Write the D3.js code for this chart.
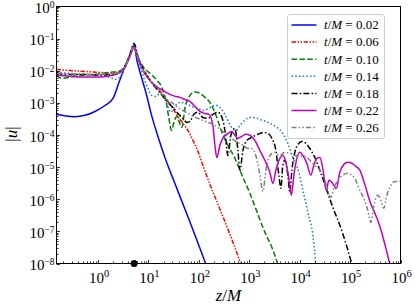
<!DOCTYPE html>
<html><head><meta charset="utf-8">
<script src="https://cdn.jsdelivr.net/npm/d3@7"></script>
<style>body{margin:0;background:#fff}svg{display:block}</style>
</head><body><svg id="c" width="415" height="308"></svg>
<script>
// ---- data (z/M, |u|) ----
const times = [0.02, 0.06, 0.10, 0.14, 0.18, 0.22, 0.26];
const particleZ = 5.2;
const xTickExps = [0, 1, 2, 3, 4, 5, 6];
const yTickExps = [0, -1, -2, -3, -4, -5, -6, -7, -8];

const u002 = [[0.15,4.4e-4],[0.23,3.9e-4],[0.35,3.7e-4],[0.55,4.1e-4],[0.87,5.4e-4],[1.37,8.3e-4],[1.98,1.38e-3],[2.6,4.3e-3],[3.42,0.0136],[4.3,0.032],[5.2,0.062],[5.9,0.021],[7.1,0.0072],[8.9,0.0021],[11.7,3.8e-4],[15.4,9.1e-5],[21.2,2.0e-5],[33.5,3.1e-6],[53,4.9e-7],[84,7.6e-8],[138,9.5e-9]];
const u006 = [[0.15,0.011],[0.278,0.0102],[0.551,0.0095],[1.09,0.0089],[1.73,0.0085],[2.49,0.0089],[3.27,0.0118],[4.11,0.0241],[5.2,0.057],[6.19,0.026],[7.78,0.0118],[9.77,0.0067],[12.3,0.0040],[15.4,0.0028],[19.4,0.00183],[24.4,0.00111],[30.6,6.7e-4],[38.4,3.8e-4],[48.3,2.3e-4],[60.7,1.39e-4],[76.3,6.8e-5],[95.8,3.1e-5],[120,1.14e-5],[166,2.9e-6],[262,4.9e-7],[413,8.1e-8],[683,9.5e-9]];
const u010 = [[0.15,0.0072],[0.193,0.0058],[0.254,0.0062],[0.439,0.0072],[0.869,0.0077],[1.73,0.0089],[2.49,0.0095],[3.27,0.0127],[4.11,0.026],[5.2,0.053],[6.19,0.026],[7.78,0.0136],[10.7,0.0083],[14.8,0.005],[18.5,0.0030],[22.2,0.00119],[25.5,3.3e-4],[28.6,1.39e-4],[32,2.47e-4],[36.7,3.8e-4],[41.1,2.47e-4],[46.1,1.73e-4],[52.9,6.7e-4],[66.5,0.00171],[83.6,0.0022],[105,0.00197],[132,0.00148],[166,0.00103],[218,4.1e-4],[287,1.2e-4],[377,4.8e-5],[519,1.88e-5],[748,4.8e-6],[1030,1.53e-6],[1483,3.4e-7],[2040,9.4e-8],[2804,3.2e-8],[3697,9.5e-9]];
const u014 = [[0.15,0.0089],[0.278,0.0083],[0.551,0.0077],[1.09,0.0072],[1.73,0.0062],[2.27,0.0054],[2.85,0.0072],[3.58,0.0146],[4.3,0.028],[5.2,0.053],[6.19,0.0209],[7.78,0.0072],[9.77,0.0028],[11.7,0.00171],[14.1,0.00159],[16.9,0.00197],[20.2,0.00148],[24.4,7.8e-4],[28,5.1e-4],[33.5,7.8e-4],[42.1,0.00103],[55.4,9.6e-4],[72.8,7.8e-4],[95.8,6.7e-4],[126,5.8e-4],[166,7.2e-4],[218,8.4e-4],[274,6.7e-4],[344,3.8e-4],[432,1.86e-4],[543,1.39e-4],[683,2.15e-4],[857,3.06e-4],[1078,3.54e-4],[1413,3.3e-4],[1862,2.85e-4],[2560,2.3e-4],[3527,1.73e-4],[4637,1.12e-4],[5833,5.5e-5],[7321,2.0e-5],[9627,6.9e-6],[11566,1.9e-6],[14514,3.9e-7],[18237,7.6e-8],[20940,8.8e-9]];
const u018 = [[0.15,0.0083],[0.278,0.0077],[0.551,0.0077],[1.09,0.0074],[1.9,0.0077],[2.72,0.0089],[3.42,0.0136],[4.11,0.026],[5.2,0.0707],[6.19,0.0279],[7.78,0.0118],[9.77,0.0062],[12.3,0.00376],[15.4,0.00244],[19.4,0.00159],[24.4,0.00103],[30.6,7.2e-4],[38.4,4.7e-4],[48.3,3.3e-4],[58,2.47e-4],[66.5,2.65e-4],[79.8,4.4e-4],[95.8,5.1e-4],[120,3.5e-4],[151,3.3e-4],[190,4.4e-4],[239,5.1e-4],[287,3.5e-4],[329,1.39e-4],[377,2.3e-5],[432,9.8e-5],[519,1.61e-4],[595,3.3e-5],[652,8.0e-6],[748,3.3e-5],[897,6.8e-5],[1128,8.5e-5],[1480,1.05e-4],[1948,1.2e-4],[2337,1.12e-4],[2804,7.9e-5],[3371,3.3e-5],[3868,5.6e-6],[4240,2.2e-6],[4637,1.14e-5],[5080,1.63e-5],[5833,5.6e-6],[6390,1.65e-6],[7000,8.0e-6],[8020,2.9e-5],[9627,5.5e-5],[11042,6.3e-5],[13265,5.5e-5],[15900,3.8e-5],[20000,2.0e-5],[25100,8.0e-6],[34618,1.9e-6],[45459,5.6e-7],[62600,1.55e-7],[82400,4.3e-8],[108344,9.5e-9]];
const u022 = [[0.15,0.0072],[0.278,0.0067],[0.551,0.0064],[1.09,0.0064],[1.9,0.0072],[2.72,0.0089],[3.42,0.0127],[4.11,0.0241],[5.2,0.053],[6.19,0.0241],[7.78,0.0102],[9.77,0.0058],[12.3,0.0040],[15.4,0.0030],[19.4,0.00244],[24.4,0.00197],[29.3,0.00171],[35.1,0.00159],[42.1,0.00148],[52.9,0.00128],[66.5,0.00111],[83.6,7.8e-4],[105,5.4e-4],[132,4.7e-4],[159,4.4e-4],[190,2.0e-4],[208,4.8e-5],[228,2.0e-5],[262,4.8e-5],[314,9.1e-5],[377,1.12e-4],[452,1.29e-4],[519,9.8e-5],[595,7.9e-5],[714,9.1e-5],[857,1.05e-4],[1030,9.8e-5],[1290,6.8e-5],[1625,3.3e-5],[2040,1.63e-5],[2560,6.9e-6],[2936,3.1e-6],[3371,8.0e-6],[4050,1.88e-5],[4637,2.3e-5],[5319,1.41e-5],[6103,4.5e-6],[6844,1.33e-6],[7660,5.6e-6],[8786,1.88e-5],[10080,2.9e-5],[11566,2.3e-5],[13880,1.32e-5],[16650,5.6e-6],[19100,1.14e-5],[21900,1.88e-5],[25100,2.0e-5],[28800,9.2e-6],[33850,1.9e-6],[37900,3.9e-6],[43500,3.4e-6],[53300,2.2e-6],[62600,6.9e-6],[75200,1.22e-5],[90280,1.41e-5],[108300,1.32e-5],[129800,1.06e-5],[156000,8.0e-6],[196000,2.9e-6],[246000,8.7e-7],[310000,3.7e-7],[389000,1.44e-7],[489000,4.0e-8],[614000,9.5e-9]];
const u026 = [[0.15,0.0083],[0.278,0.008],[0.551,0.0077],[1.09,0.0077],[1.9,0.008],[2.72,0.0092],[3.42,0.0136],[4.11,0.026],[5.2,0.057],[6.19,0.026],[7.78,0.011],[9.77,0.0062],[12.3,0.00376],[15.4,0.00262],[19.4,0.00171],[24.4,0.00119],[30.6,9.6e-4],[38.4,7.2e-4],[48.3,5.8e-4],[60.7,4.7e-4],[76.3,3.8e-4],[95.8,3.3e-4],[120,2.85e-4],[151,2.47e-4],[190,2.15e-4],[239,1.73e-4],[300,1.29e-4],[377,9.8e-5],[474,7.3e-5],[595,5.9e-5],[748,4.8e-5],[940,3.8e-5],[1128,3.8e-5],[1350,2.3e-5],[1625,5.6e-6],[1862,1.77e-6],[2136,8.0e-6],[2560,2.3e-5],[3220,2.9e-5],[4050,2.3e-5],[5080,2.9e-5],[6390,2.7e-5],[8020,2.3e-5],[10080,2.2e-5],[12670,2.2e-5],[15900,1.63e-5],[20000,1.14e-5],[25100,8.0e-6],[31600,3.9e-6],[36200,1.9e-6],[41560,1.15e-6],[47560,2.2e-6],[57140,3.9e-6],[71840,5.6e-6],[90280,6.4e-6],[108300,5.6e-6],[129800,3.9e-6],[156000,1.9e-6],[187200,1.07e-6],[224600,4.5e-7],[257600,1.9e-7],[296000,6.5e-7],[355000,1.33e-6],[407000,9.3e-7],[467000,5.2e-7],[535600,1.33e-6],[643000,2.7e-6],[771000,3.6e-6],[1000000,3.6e-6]];

const seriesData = [u002, u006, u010, u014, u018, u022, u026];
const styles = [
  {color:"#0000ff", dash:null},
  {color:"#ff0000", dash:"4.5,1.5,1.5,1.5,1.5,1.5"},
  {color:"#008000", dash:"5.5,2.4"},
  {color:"#1f77b4", dash:"1.5,2.2"},
  {color:"#000000", dash:"6,2.2,1.5,2.2"},
  {color:"#bf00bf", dash:null},
  {color:"#7f7f7f", dash:"5,2.2,1.5,2.2,1.5,2.2"}
];

// ---- layout ----
const X0 = 56.5, X1 = 400.5, Y0 = 6.5, Y1 = 263.5;
const FONT = "'Liberation Serif','Times New Roman',serif";
const svg = d3.select("#c");
const x = d3.scaleLog().domain([0.15, 1e6]).range([X0, X1]);
const y = d3.scaleLog().domain([1e-8, 1]).range([Y1, Y0]);

svg.append("defs").append("clipPath").attr("id","clip")
  .append("rect").attr("x",X0).attr("y",Y0).attr("width",X1-X0).attr("height",Y1-Y0);

const line = d3.line().x(d => x(d[0])).y(d => y(d[1])).curve(d3.curveMonotoneX);
const g = svg.append("g").attr("clip-path","url(#clip)");
seriesData.forEach((data, i) => {
  g.append("path").attr("d", line(data)).attr("fill","none")
    .attr("stroke", styles[i].color).attr("stroke-width",1.5)
    .attr("stroke-dasharray", styles[i].dash);
});

// ticks (inward)
const isMajor = t => Math.abs(Math.log10(t) - Math.round(Math.log10(t))) < 1e-9;
const tg = svg.append("g").attr("stroke","#000").attr("stroke-width",0.8);
x.ticks().filter(t => t >= 0.15 && t <= 1e6).forEach(t => {
  const L = isMajor(t) ? 3.5 : 2;
  const px = Math.round(x(t)) + 0.5;
  tg.append("line").attr("x1",px).attr("x2",px).attr("y1",Y1).attr("y2",Y1-L);
});
y.ticks().forEach(t => {
  const L = isMajor(t) ? 3.5 : 2;
  const py = Math.round(y(t)) + 0.5;
  tg.append("line").attr("x1",X0).attr("x2",X0+L).attr("y1",py).attr("y2",py);
});

// frame
svg.append("rect").attr("x",X0).attr("y",Y0).attr("width",X1-X0).attr("height",Y1-Y0)
  .attr("fill","none").attr("stroke","#000").attr("stroke-width",1);

// tick labels
const fmtExp = e => (e < 0 ? "\u2212" + (-e) : "" + e);
xTickExps.forEach(e => {
  const t = svg.append("text").attr("x", x(Math.pow(10,e)) + 1).attr("y", 283)
    .attr("text-anchor","middle").attr("font-family",FONT).attr("font-size",15).attr("fill","#000");
  t.append("tspan").text("10");
  t.append("tspan").attr("dy",-6).attr("font-size",10.5).text(fmtExp(e));
});
yTickExps.forEach(e => {
  const t = svg.append("text").attr("x", 54.5).attr("y", y(Math.pow(10,e)) + 6.5)
    .attr("text-anchor","end").attr("font-family",FONT).attr("font-size",15).attr("fill","#000");
  t.append("tspan").text("10");
  t.append("tspan").attr("dy",-5).attr("font-size",9.5).text(fmtExp(e));
});

// axis labels
const yl = svg.append("text").attr("transform","translate(17,134) rotate(-90)")
  .attr("text-anchor","middle").attr("font-family",FONT).attr("font-size",17).attr("fill","#000");
yl.append("tspan").text("|");
yl.append("tspan").attr("font-style","italic").text("u");
yl.append("tspan").text("|");
const xl = svg.append("text").attr("x",(X0+X1)/2).attr("y",301)
  .attr("text-anchor","middle").attr("font-family",FONT).attr("font-size",17).attr("fill","#000");
xl.append("tspan").attr("font-style","italic").text("z");
xl.append("tspan").text("/");
xl.append("tspan").attr("font-style","italic").text("M");

// particle marker
svg.append("circle").attr("cx", x(particleZ)).attr("cy", Y1).attr("r",3.5).attr("fill","#000");

// legend
const lg = svg.append("g");
lg.append("rect").attr("x",287.5).attr("y",14.5).attr("width",97).attr("height",124).attr("rx",2.5)
  .attr("fill","#fff").attr("fill-opacity",0.85).attr("stroke","#cccccc").attr("stroke-width",1);
times.forEach((tv, i) => {
  const cy = 25 + i * 17.1;
  lg.append("line").attr("x1",291.5).attr("x2",316.5).attr("y1",cy).attr("y2",cy)
    .attr("stroke",styles[i].color).attr("stroke-width",1.5).attr("stroke-dasharray",styles[i].dash);
  const t = lg.append("text").attr("x",324).attr("y",cy+4.3).attr("font-family",FONT)
    .attr("font-size",13).attr("fill","#000");
  t.append("tspan").attr("font-style","italic").text("t");
  t.append("tspan").text("/");
  t.append("tspan").attr("font-style","italic").text("M");
  t.append("tspan").text(" = " + tv.toFixed(2));
});
</script></body></html>
